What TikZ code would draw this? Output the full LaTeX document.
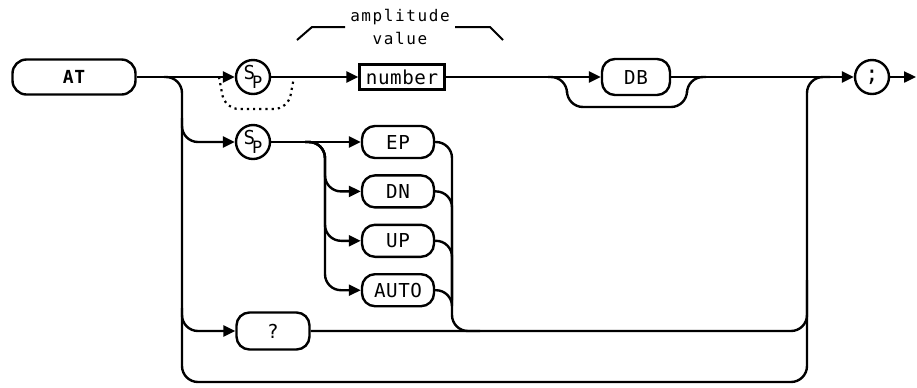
\documentclass[tikz,border=0pt]{standalone}
\usepackage{fontspec}
\usetikzlibrary{positioning, arrows.meta, calc}
\newfontfamily\plotfont{DejaVu Sans Mono}[LetterSpace=3]
\newfontfamily\plottiny{DejaVu Sans Mono}[LetterSpace=10]
\newcommand{\keyfont}{\plotfont\fontsize{9.6pt}{9.6pt}\selectfont}
\newcommand{\cmdfont}{\plotfont\bfseries\fontsize{9pt}{9pt}\selectfont}
\newcommand{\notefont}{\plottiny\fontsize{8pt}{8pt}\selectfont}
\newcommand{\spsym}{\raisebox{0.35ex}{S}\kern-1.5pt\raisebox{-0.55ex}{\fontsize{8.5pt}{8.5pt}\selectfont P}}
\tikzset{
  cmdbox/.style={rectangle, rounded corners=7pt, minimum width=61.5pt, minimum height=17.5pt, inner sep=0pt, draw=black, line width=1.2pt, font=\cmdfont},
  keybox/.style={rectangle, rounded corners=6.5pt, minimum width=36pt, minimum height=16pt, inner sep=0pt, draw=black, line width=1.2pt, font=\keyfont},
  numbox/.style={rectangle, minimum width=42.5pt, minimum height=12.5pt, inner sep=0pt, draw=black, line width=1.1pt, font=\keyfont},
  spcirc/.style={circle, minimum size=17pt, inner sep=0pt, draw=black, line width=1.2pt, font=\keyfont},
  track/.style={line width=1.2pt, rounded corners=8pt},
  arrow/.style={line width=1.2pt, rounded corners=8pt, -{Triangle[length=6pt,width=5.5pt]}}
}

\begin{document}
\begin{tikzpicture}[x=0.5pt, y=-0.5pt]
        \useasboundingbox (0,0) rectangle (917,387);

        % Linea principal
        \node (at) [cmdbox] at (74,77) {AT};
        \node (sp1) [spcirc] at (253,77) {\spsym};
        \node (num) [numbox] at (402,77) {number};
        \node (db) [keybox, minimum width=34pt, minimum height=18pt] at (636,77) {DB};
        \node (semi) [spcirc, font=\plotfont\fontsize{11pt}{11pt}\selectfont] at (872,77) {;};
        \coordinate (out) at (916,77);

        % Rama de modos
        \node (sp2) [spcirc] at (253,142) {\spsym};
        \node (ep) [keybox] at (398,142) {EP};
        \node (dn) [keybox, below=7.5pt of ep] {DN};
        \node (up) [keybox, below=7.5pt of dn] {UP};
        \node (auto) [keybox, below=7.5pt of up] {AUTO};

        % Rama de consulta
        \node (quest) [keybox, minimum width=36.5pt, minimum height=18.5pt] at (273,331) {?};

        % Etiqueta del numero
        \node (amp) [font=\notefont, inner sep=0pt] at (400,17) {amplitude};
        \node (val) [font=\notefont, inner sep=0pt, below=3.5pt of amp] {value};
        \draw [line width=1pt] (297,40) -- (312,27) -- (345,27);
        \draw [line width=1pt] (455,27) -- (490,27) -- (503,40);

        % Puntos de union
        \coordinate (lsplit) at (164,77);
        \coordinate (lb2) at (182,118);
        \coordinate (lb3) at (182,308);
        \coordinate (rtop) at (830,77);
        \coordinate (rmid) at (807,280);
        \coordinate (fkin) at (305,142);
        \coordinate (fk) at (325,142);
        \coordinate (rjoin) at (452,331);
        \coordinate (rjout) at (480,331);
        \coordinate (rjmid) at (452,300);
        \coordinate (dotl) at (219,77);
        \coordinate (dotr) at (294,77);
        \coordinate (dbl) at (548,77);
        \coordinate (dbr) at (706,77);

        % Flechas principales
        \draw [arrow] (at) -- (sp1);
        \draw [arrow] (sp1) -- (num);
        \draw [arrow] (num) -- (db);
        \draw [arrow] (db) -- (semi);
        \draw [arrow] (semi) -- (out);

        % Espacio opcional y DB opcional
        \draw [dotted, line width=1.1pt, rounded corners=7pt] (dotl) -- (225,109) -- (288,109) -- (dotr);
        \draw [track] (dbl) -- (567,77) -- (567,107) -- (687,107) -- (687,77) -- (dbr);

        % Lazo exterior
        \draw [track] (lsplit) -- (182,77) -- (182,382) -- (807,382) -- (807,77) -- (rtop);

        % Ramas hacia la derecha
        \draw [arrow] (lb2) |- (sp2);
        \draw [arrow] (lb3) |- (quest);
        \draw [arrow] (sp2) -- (ep);
        \foreach \n in {dn,up,auto}
          \draw [arrow] (fkin) -- (fk) |- (\n);

        % Retornos
        \draw [track] (ep.east) -| (rjoin) -- (rjout);
        \foreach \n in {dn,up,auto}
          \draw [track] (\n.east) -| (rjmid);
        \draw [track] (quest) -| (rmid);

    \end{tikzpicture}
\end{document}
